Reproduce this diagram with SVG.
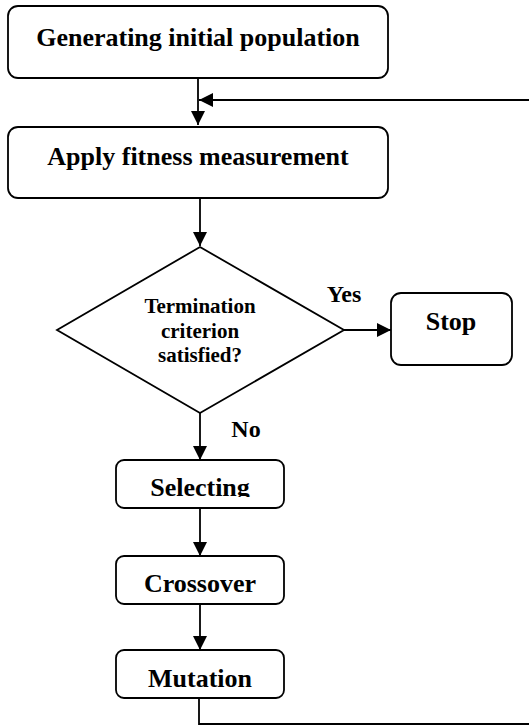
<svg xmlns="http://www.w3.org/2000/svg" width="529" height="725" viewBox="0 0 529 725">
<style>
.box{fill:#fff;stroke:#000;stroke-width:1.8}
.t{font-family:"Liberation Serif","Times New Roman",serif;font-weight:bold;fill:#000;text-anchor:middle}
.c{fill:none;stroke:#000;stroke-width:1.8}
</style>
<defs>
<marker id="ah" markerUnits="userSpaceOnUse" markerWidth="15" markerHeight="15" refX="14" refY="7" orient="auto">
<path d="M0,0 L14,7 L0,14 z" fill="#000"/>
</marker>
<clipPath id="selclip"><rect x="116" y="460" width="168" height="37"/></clipPath>
</defs>
<rect width="529" height="725" fill="#fff"/>
<g id="connectors">
<path class="c" d="M198,78 V125" marker-end="url(#ah)"/>
<path class="c" d="M199,698 V724 H560 V100 H199" marker-end="url(#ah)"/>
<path class="c" d="M200,198 V246" marker-end="url(#ah)"/>
<path class="c" d="M344,330 H391" marker-end="url(#ah)"/>
<path class="c" d="M200,413 V460" marker-end="url(#ah)"/>
<path class="c" d="M200,508 V556" marker-end="url(#ah)"/>
<path class="c" d="M200,604 V650" marker-end="url(#ah)"/>
<text class="t" x="344" y="302" font-size="24">Yes</text>
<text class="t" x="246" y="437" font-size="24">No</text>
</g>
<g id="n-init">
<rect class="box" x="8" y="6" width="380" height="72" rx="10"/>
<text class="t" x="198" y="46" font-size="26">Generating initial population</text>
</g>
<g id="n-fitness">
<rect class="box" x="8" y="127" width="380" height="71" rx="10"/>
<text class="t" x="198" y="165" font-size="26">Apply fitness measurement</text>
</g>
<g id="n-term">
<polygon class="box" points="200,247 344,330 200,413 57,330"/>
<text class="t" x="200" y="313" font-size="21">Termination</text>
<text class="t" x="200" y="338" font-size="21">criterion</text>
<text class="t" x="200" y="362" font-size="21">satisfied?</text>
</g>
<g id="n-stop">
<rect class="box" x="391" y="293" width="121" height="72" rx="10"/>
<text class="t" x="451" y="330" font-size="26">Stop</text>
</g>
<g id="n-select">
<rect class="box" x="116" y="460" width="168" height="48" rx="8"/>
<text class="t" x="200" y="496" font-size="26" clip-path="url(#selclip)">Selecting</text>
</g>
<g id="n-cross">
<rect class="box" x="116" y="556" width="168" height="48" rx="8"/>
<text class="t" x="200" y="592" font-size="26">Crossover</text>
</g>
<g id="n-mut">
<rect class="box" x="116" y="650" width="168" height="48" rx="8"/>
<text class="t" x="200" y="687" font-size="26">Mutation</text>
</g>
</svg>
